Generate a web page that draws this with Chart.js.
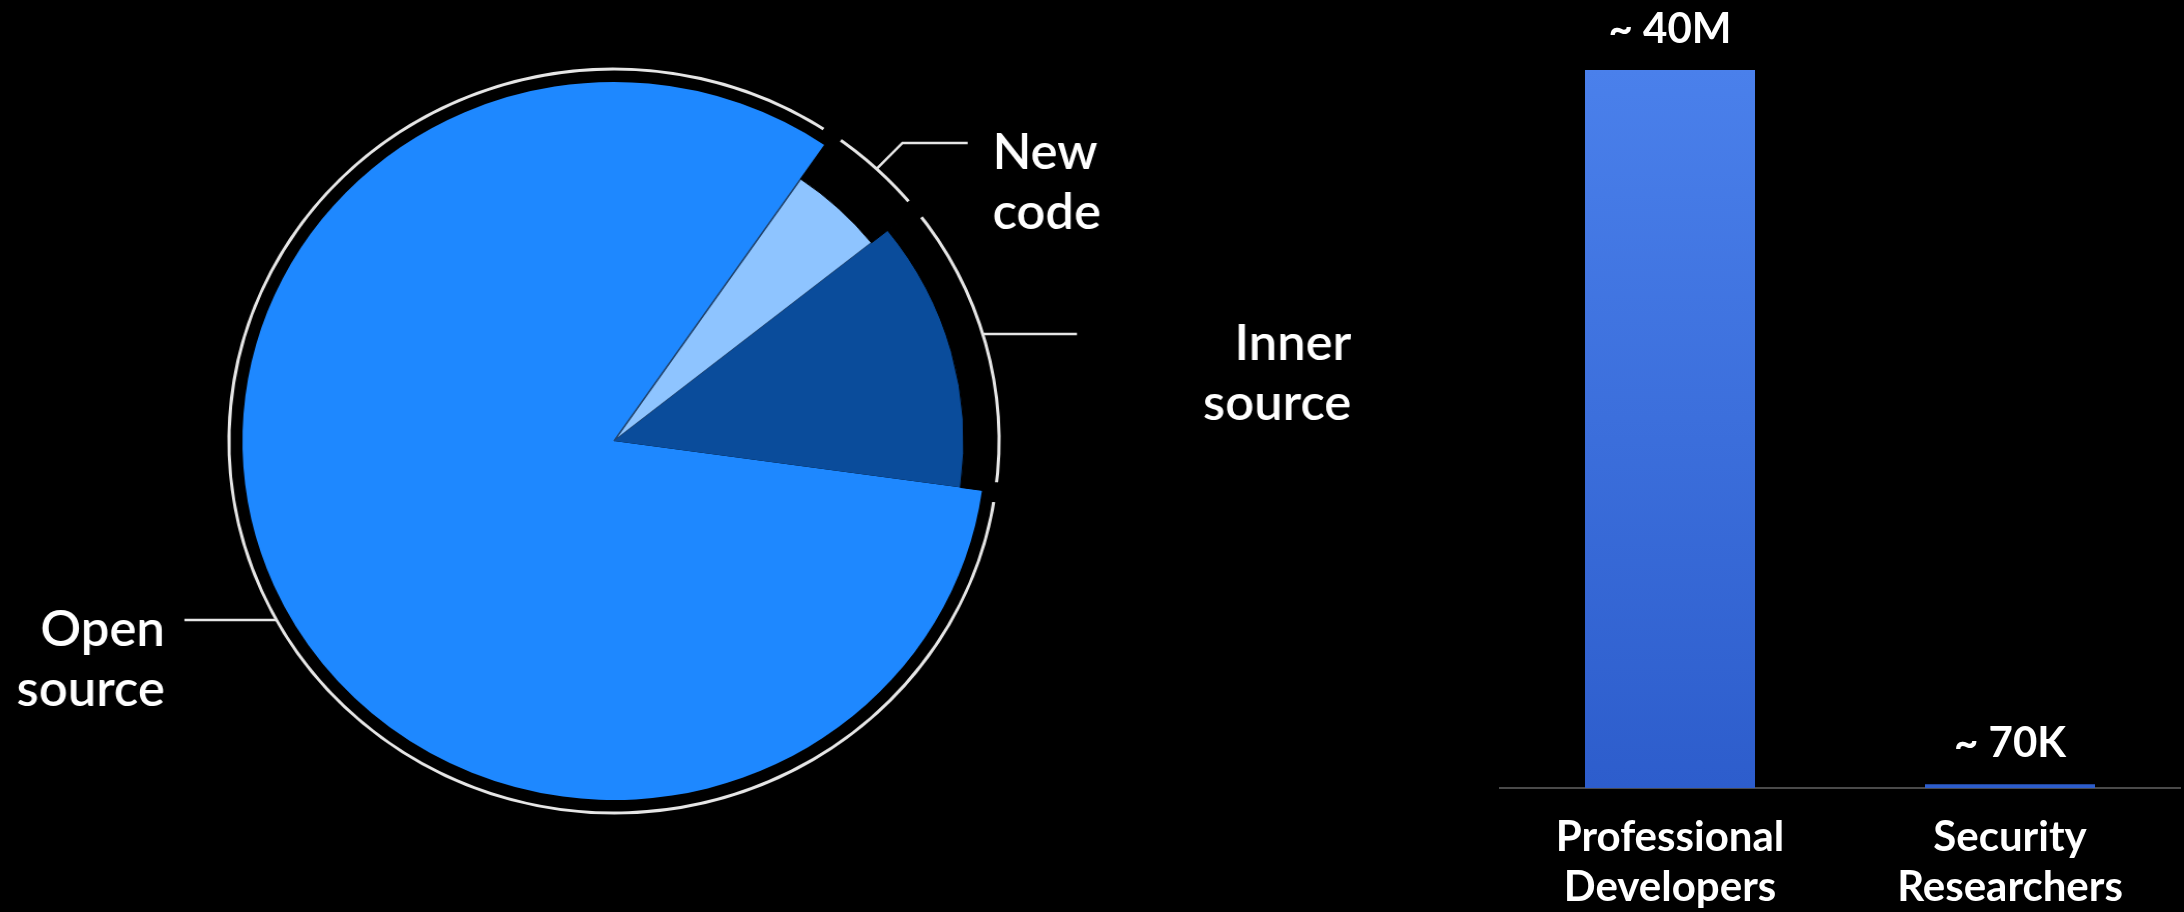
<!DOCTYPE html>
<html>
<head>
<meta charset="utf-8">
<script src="https://cdn.jsdelivr.net/npm/chart.js@4"></script>
<style>
  html, body { margin: 0; background: #000; width: 2184px; height: 912px; overflow: hidden; }
  /* the slide is stretched a little sideways, so the pie is an ellipse */
  #pieBox { position: absolute; left: 0; top: 0; width: 1400px; height: 912px; transform-origin: 614px 441px; transform: scaleX(1.035); }
  #barBox { position: absolute; left: 1480px; top: 0; width: 704px; height: 929px; }
</style>
</head>
<body>
<div id="pieBox"><canvas id="pie"></canvas></div>
<div id="barBox"><canvas id="bars"></canvas></div>
<script>
// Pie: where the code comes from (% of a codebase)
const sources = [['Open', 'source'], ['New', 'code'], ['Inner', 'source']];
const shares = [82.4, 4.7, 12.9];
const sourceColors = ['#1e88ff', '#8ec4ff', '#0a4c9b'];

// Bars: how many people look at it
const groups = [['Professional', 'Developers'], ['Security', 'Researchers']];
const counts = [40000000, 70000];
const countLabels = ['~ 40M', '~ 70K'];

const clear = 'rgba(0,0,0,0)';

// radial bands (px): white ring, two black masks that trim the small slices, the pie
const bands = [[360.5, 383.5], [318, 362], [338, 362], [0, 359]];
let used = 0;
const rings = bands.map(([inner, outer]) => {
    const radius = outer / (1 - used);
    const weight = (outer - inner) / radius;
    used += weight;
    return { radius: radius, weight: weight };
});

// leader lines + labels
const leaderStyle = [
    { nudge: -5,   knee: [0, 0],    run: -89, gap: -19, align: 'right' },
    { nudge: 0,    knee: [25, -26], run: 63,  gap: 24,  align: 'left' },
    { nudge: -1.4, knee: [0, 0],    run: 91,  gap: 265, align: 'right' }
];

const pieLabels = {
    id: 'pieLabels',
    afterDraw(chart) {
        const ctx = chart.ctx;
        const arcs = chart.getDatasetMeta(3).data;
        ctx.save();
        ctx.strokeStyle = '#e6e6e6';
        ctx.lineWidth = 2.5;
        ctx.fillStyle = '#fff';
        ctx.font = '600 49px Lato';
        arcs.forEach((arc, i) => {
            const s = leaderStyle[i];
            const a = (arc.startAngle + arc.endAngle) / 2 + s.nudge * Math.PI / 180;
            const x0 = arc.x + 372 * Math.cos(a);
            const y0 = arc.y + 372 * Math.sin(a);
            const x1 = x0 + s.knee[0], y1 = y0 + s.knee[1];
            const x2 = x1 + s.run;
            ctx.beginPath();
            ctx.moveTo(x0, y0);
            ctx.lineTo(x1, y1);
            ctx.lineTo(x2, y1);
            ctx.stroke();
            ctx.textAlign = s.align;
            ctx.textBaseline = 'alphabetic';
            sources[i].forEach((line, k) => ctx.fillText(line, x2 + s.gap, y1 + 26 + k * 60));
        });
        ctx.restore();
    }
};

new Chart(document.getElementById('pie'), {
    type: 'pie',
    data: {
        labels: sources.map(s => s.join(' ')),
        datasets: [
            { data: shares, ...rings[0], backgroundColor: '#e6e6e6', borderColor: '#000', borderWidth: 20, order: 3 },
            { data: shares, ...rings[1], backgroundColor: [clear, '#000', clear], borderColor: [clear, '#000', clear], borderWidth: 1, order: 0 },
            { data: shares, ...rings[2], backgroundColor: [clear, clear, '#000'], borderColor: [clear, clear, '#000'], borderWidth: 1, order: 0 },
            { data: shares, ...rings[3], backgroundColor: sourceColors, borderColor: ['#1e88ff', '#22456f', '#0a4c9b'], borderWidth: [0, 1.5, 0], order: 2 }
        ]
    },
    options: {
        responsive: true,
        maintainAspectRatio: false,
        animation: false,
        events: [],
        rotation: 97.9,
        layout: { padding: { right: 172, bottom: 30 } },
        plugins: { legend: { display: false }, tooltip: { enabled: false } }
    },
    plugins: [pieLabels]
});

// values above the bars
const valueLabels = {
    id: 'valueLabels',
    afterDatasetsDraw(chart) {
        const ctx = chart.ctx;
        ctx.save();
        ctx.fillStyle = '#fff';
        ctx.font = '700 42px Lato';
        ctx.textAlign = 'center';
        ctx.textBaseline = 'alphabetic';
        chart.getDatasetMeta(0).data.forEach((bar, i) => ctx.fillText(countLabels[i], bar.x, bar.y - 27));
        ctx.restore();
    }
};

function barFill(c) {
    const area = c.chart.chartArea;
    if (!area) return '#3d6fdc';
    const g = c.chart.ctx.createLinearGradient(0, area.top, 0, area.bottom);
    g.addColorStop(0, '#4a80eb');
    g.addColorStop(1, '#2d5dcc');
    return g;
}

new Chart(document.getElementById('bars'), {
    type: 'bar',
    data: {
        labels: groups,
        datasets: [{ data: counts, backgroundColor: barFill, minBarLength: 4, barPercentage: 0.5, categoryPercentage: 1 }]
    },
    options: {
        responsive: true,
        maintainAspectRatio: false,
        animation: false,
        events: [],
        layout: { padding: { top: 70, left: 20, right: 4, bottom: 0 } },
        plugins: { legend: { display: false }, tooltip: { enabled: false } },
        scales: {
            x: {
                grid: { display: false },
                border: { color: '#4a4a4a', width: 2 },
                ticks: { color: '#fff', padding: 16, maxRotation: 0, font: { family: 'Lato', weight: '700', size: 42, lineHeight: 1.2 } }
            },
            y: { display: false, min: 0, max: 40000000 }
        }
    },
    plugins: [valueLabels]
});
</script>
</body>
</html>
